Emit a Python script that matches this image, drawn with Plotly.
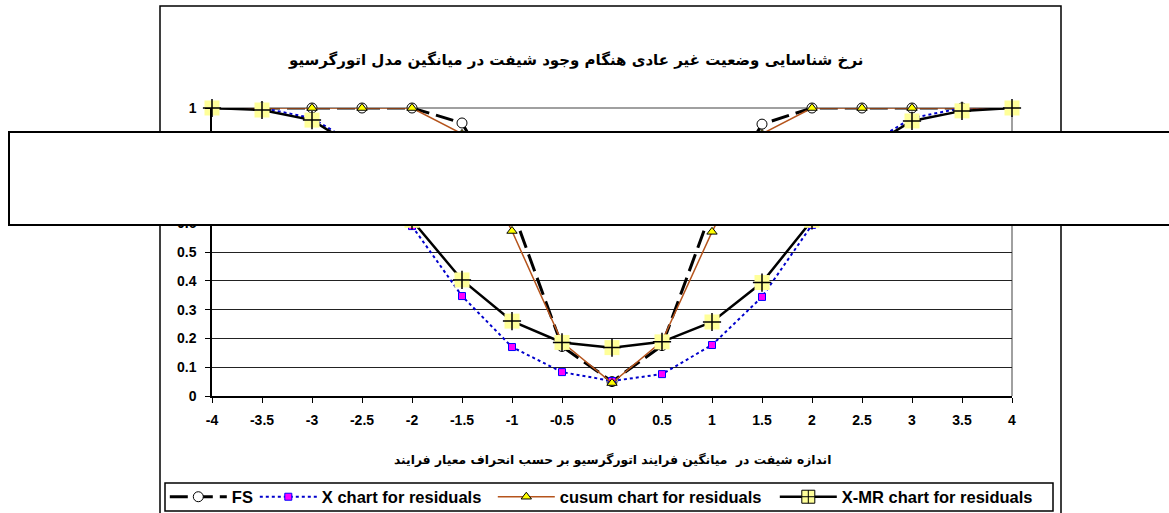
import plotly.graph_objects as go

# Shift size in process standard deviations
shift = [-4, -3.5, -3, -2.5, -2, -1.5, -1, -0.5, 0, 0.5, 1, 1.5, 2, 2.5, 3, 3.5, 4]
tick_labels = ["-4", "-3.5", "-3", "-2.5", "-2", "-1.5", "-1", "-0.5", "0",
               "0.5", "1", "1.5", "2", "2.5", "3", "3.5", "4"]

# Detection rates
fs = [1, 1, 1, 1, 1, 0.948, 0.65, 0.172, 0.05, 0.175, 0.65, 0.944, 1, 1, 1, 1, 1]
x_chart = [1, 1, 0.965, 0.86, 0.59, 0.347, 0.17, 0.083, 0.052, 0.076, 0.177, 0.344, 0.594, 0.86, 0.965, 1, 1]
cusum = [1, 1, 1, 1, 1, 0.91, 0.573, 0.187, 0.045, 0.19, 0.57, 0.91, 1, 1, 1, 1, 1]
xmr = [1, 0.993, 0.958, 0.85, 0.61, 0.403, 0.26, 0.186, 0.168, 0.188, 0.257, 0.394, 0.61, 0.85, 0.955, 0.99, 1]

names = ["FS", "X chart for residuals", "cusum chart for residuals", "X-MR chart for residuals"]
title_text = "نرخ شناسایی وضعیت غیر عادی هنگام وجود شیفت در میانگین مدل اتورگرسیو"
xaxis_text = "اندازه شیفت در  میانگین فرایند اتورگرسیو بر حسب انحراف معیار فرایند"

LAT = "Liberation Sans, Arial, sans-serif"
FA = "DejaVu Sans, Tahoma, sans-serif"

fig = go.Figure()

fig.add_trace(go.Scatter(
    x=shift, y=fs, name=names[0], mode="lines+markers", cliponaxis=False, legendwidth=18,
    line=dict(color="black", width=3, dash="18px,7px"),
    marker=dict(symbol="circle", size=10, color="white", line=dict(color="black", width=1)),
))
fig.add_trace(go.Scatter(
    x=shift, y=x_chart, name=names[1], mode="lines+markers", cliponaxis=False, legendwidth=166,
    line=dict(color="#0000CC", width=2, dash="dot"),
    marker=dict(symbol="square", size=7, color="#FF00FF", line=dict(color="#0000FF", width=1)),
))
fig.add_trace(go.Scatter(
    x=shift, y=cusum, name=names[2], mode="lines+markers", cliponaxis=False, legendwidth=210,
    line=dict(color="#B5541C", width=1.5),
    marker=dict(symbol="triangle-up", size=9, color="#FFFF00", line=dict(color="black", width=1)),
))
# X-MR: line with pale yellow squares and a black cross on top
fig.add_trace(go.Scatter(
    x=shift, y=xmr, name=names[3], mode="lines+markers", cliponaxis=False, showlegend=False,
    line=dict(color="black", width=2.5),
    marker=dict(symbol="square", size=15, color="#FFFF99", line=dict(width=0)),
))
fig.add_trace(go.Scatter(
    x=shift, y=xmr, mode="markers", cliponaxis=False, showlegend=False, hoverinfo="skip",
    marker=dict(symbol="cross-thin", size=13, color="black", line=dict(color="black", width=1.5)),
))
# legend entry for X-MR
fig.add_trace(go.Scatter(
    x=[None], y=[None], name=names[3], mode="lines+markers", legendwidth=200,
    line=dict(color="black", width=2.5),
    marker=dict(symbol="square-cross", size=13, color="#FFFF99", line=dict(color="black", width=1)),
))

shapes = [
    # chart frame
    dict(type="rect", xref="paper", yref="paper", x0=-0.065, x1=1.06125, y0=-0.6, y1=1.354,
         line=dict(color="black", width=1.5), fillcolor="rgba(0,0,0,0)", layer="below"),
    # legend frame
    dict(type="rect", xref="paper", yref="paper", x0=-0.05875, x1=1.05125, y0=-0.3993, y1=-0.3021,
         line=dict(color="black", width=1.5), fillcolor="white", layer="below"),
    # plot area border (top / right)
    dict(type="line", xref="paper", yref="paper", x0=0, x1=1, y0=1, y1=1,
         line=dict(color="#808080", width=1.5), layer="between"),
    dict(type="line", xref="paper", yref="paper", x0=1, x1=1, y0=0, y1=1,
         line=dict(color="#808080", width=1.5), layer="between"),
    # empty text box on top of the chart
    dict(type="rect", xref="paper", yref="paper", x0=-0.25375, x1=1.26, y0=0.59375, y1=0.9167,
         line=dict(color="black", width=2), fillcolor="white", layer="above"),
]

annotations = [
    dict(text=title_text, xref="paper", yref="paper", x=0.454, y=1.1667, showarrow=False,
         xanchor="center", yanchor="middle", font=dict(family=FA, size=15, color="black", weight="bold")),
    dict(text=xaxis_text, xref="paper", yref="paper", x=0.5, y=-0.222, showarrow=False,
         xanchor="center", yanchor="middle", font=dict(family=FA, size=12.3, color="black", weight="bold")),
]

fig.update_layout(
    width=1169, height=513,
    margin=dict(l=212, r=157, t=108, b=117, autoexpand=False),
    paper_bgcolor="white", plot_bgcolor="white",
    showlegend=True,
    shapes=shapes, annotations=annotations,
    legend=dict(orientation="h", x=-0.059, y=-0.3507, xanchor="left", yanchor="middle",
                borderwidth=0, bgcolor="rgba(0,0,0,0)",
                font=dict(family=LAT, size=16.5, color="black", weight="bold"),
                itemwidth=57, tracegroupgap=0),
    xaxis=dict(range=[-4, 4], tickmode="array", tickvals=shift, ticktext=tick_labels,
               showgrid=False, zeroline=False, showline=True, linecolor="black", linewidth=1.5,
               ticks="outside", ticklen=5, tickcolor="black", ticklabelstandoff=5,
               tickfont=dict(family=LAT, size=14, color="black", weight="bold")),
    yaxis=dict(range=[0, 1], dtick=0.1, tick0=0, showgrid=True, gridcolor="#222222", gridwidth=1,
               zeroline=False, showline=True, linecolor="black", linewidth=1.5,
               ticks="outside", ticklen=5, tickcolor="black", ticklabelstandoff=6,
               tickfont=dict(family=LAT, size=14, color="black", weight="bold")),
)

fig.write_html("out.html")
